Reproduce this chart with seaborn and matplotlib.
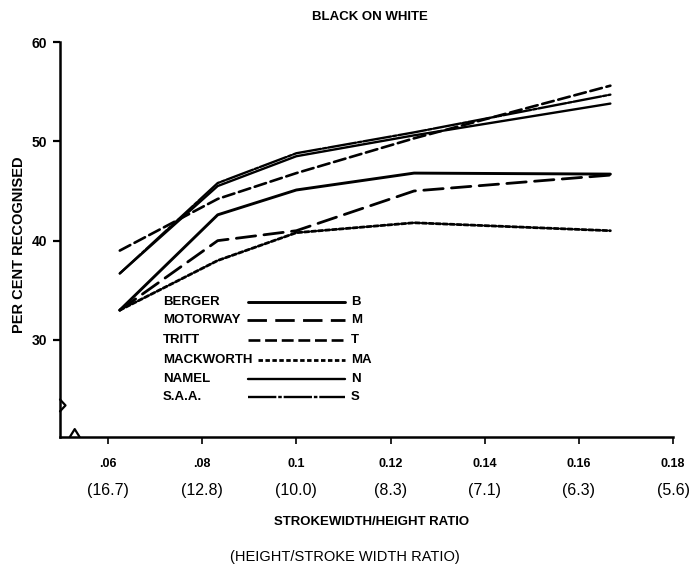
import numpy as np
import pandas as pd
import matplotlib
matplotlib.use("Agg")
import matplotlib.pyplot as plt
from matplotlib.lines import Line2D
import seaborn as sns

# Stroke-width / height ratios at which each alphabet was tested
ratio = [0.0625, 0.0833, 0.1, 0.125, 0.1667]

berger = [33.0, 42.6, 45.1, 46.8, 46.7]
motorway = [33.0, 40.0, 41.0, 45.0, 46.6]
tritt = [39.0, 44.2, 46.8, 50.3, 55.6]
mackworth = [33.0, 38.0, 40.8, 41.8, 41.0]
namel = [36.7, 45.5, 48.5, 50.6, 53.8]
saa = [36.7, 45.8, 48.8, 50.9, 54.7]

series_names = ["BERGER", "MOTORWAY", "TRITT", "MACKWORTH", "NAMEL", "S.A.A."]
series_codes = ["B", "M", "T", "MA", "N", "S"]
series_values = [berger, motorway, tritt, mackworth, namel, saa]

xticks = [0.06, 0.08, 0.10, 0.12, 0.14, 0.16, 0.18]
xtick_labels = [".06", ".08", "0.1", "0.12", "0.14", "0.16", "0.18"]
xtick_inverse = ["(16.7)", "(12.8)", "(10.0)", "(8.3)", "(7.1)", "(6.3)", "(5.6)"]
yticks = [30, 40, 50, 60]

sns.set_style("ticks")
plt.rcParams["font.family"] = ["Liberation Sans", "DejaVu Sans"]
plt.rcParams.update({
    "text.color": "black",
    "axes.labelcolor": "black",
    "axes.edgecolor": "black",
    "xtick.color": "black",
    "ytick.color": "black",
})

W, H = 693, 574
fig = plt.figure(figsize=(W / 100, H / 100), dpi=100)
ax = fig.add_axes([60 / W, 1 - 437 / H, (673 - 60) / W, (437 - 42) / H])

df = pd.DataFrame({
    "ratio": np.tile(ratio, len(series_names)),
    "pct": np.concatenate(series_values),
    "alphabet": np.repeat(series_names, len(ratio)),
})

dash_styles = {
    "BERGER": "",
    "MOTORWAY": (7, 3),
    "TRITT": (4.5, 1.8),
    "MACKWORTH": (1.6, 0.9),
    "NAMEL": "",
    "S.A.A.": (12, 0.8, 1.5, 0.8),
}
widths = {"BERGER": 2.1, "MOTORWAY": 2.0, "TRITT": 1.9,
          "MACKWORTH": 2.0, "NAMEL": 1.7, "S.A.A.": 1.7}

for name in series_names:
    sub = df[df["alphabet"] == name]
    sns.lineplot(data=sub, x="ratio", y="pct", ax=ax, color="black",
                 linewidth=widths[name], legend=False, estimator=None,
                 sort=False)
    ln = ax.lines[-1]
    if dash_styles[name]:
        ln.set_dashes(dash_styles[name])
    ln.set_solid_capstyle("round")
    ln.set_dash_capstyle("round")

ax.set_xlim(0.0498, 0.18)
ax.set_ylim(20.23, 60)
sns.despine(ax=ax)
for s in ("left", "bottom"):
    ax.spines[s].set_linewidth(1.8)

ax.set_yticks(yticks)
ax.set_yticklabels([str(v) for v in yticks], fontweight="bold", fontsize=10)
ax.set_xticks(xticks)
ax.set_xticklabels(xtick_labels, fontweight="bold", fontsize=9)
ax.tick_params(axis="y", direction="out", length=5, width=1.6, pad=4)
ax.tick_params(axis="x", direction="out", length=5, width=1.2, pad=10)
ax.set_xlabel("")
ax.set_ylabel("")

# Second row of x labels: height/stroke-width equivalents
for xv, lab in zip(xticks, xtick_inverse):
    ax.text(xv, -0.135, lab, transform=ax.get_xaxis_transform(),
            ha="center", va="center", fontsize=11.5)

# Axis break marks
ax.add_artist(Line2D([0, 0.009, 0], [0.095, 0.08, 0.065], transform=ax.transAxes,
                     color="black", lw=1.6, clip_on=False))
ax.add_artist(Line2D([0.016, 0.024, 0.032], [0, 0.02, 0], transform=ax.transAxes,
                     color="black", lw=1.6, clip_on=False))

fig.text(370 / W, 1 - 17 / H, "BLACK ON WHITE", ha="center", va="center",
         fontsize=9.5, fontweight="bold")
fig.text(19 / W, 1 - 245 / H, "PER CENT RECOGNISED", rotation=90,
         ha="center", va="center", fontsize=10.5, fontweight="bold")
fig.text(372 / W, 1 - 522 / H, "STROKEWIDTH/HEIGHT RATIO", ha="center",
         va="center", fontsize=9.5, fontweight="bold")
fig.text(345 / W, 1 - 557 / H, "(HEIGHT/STROKE WIDTH RATIO)", ha="center",
         va="center", fontsize=10.5)

# Key: name, line sample, code letter
key_rows = [302, 320, 340, 360, 379, 397]
key_start = [248, 247, 248, 258, 248, 248]
for name, code, yy, xs in zip(series_names, series_codes, key_rows, key_start):
    fy = 1 - yy / H
    fig.text(163 / W, fy, name, ha="left", va="center", fontsize=9.5,
             fontweight="bold")
    fig.text(351 / W, fy, code, ha="left", va="center", fontsize=9.5,
             fontweight="bold")
    ln = Line2D([xs / W, 345 / W], [fy, fy], transform=fig.transFigure,
                color="black", lw=widths[name])
    if dash_styles[name]:
        ln.set_dashes(dash_styles[name])
    fig.add_artist(ln)

fig.savefig("out.png", dpi=100)
